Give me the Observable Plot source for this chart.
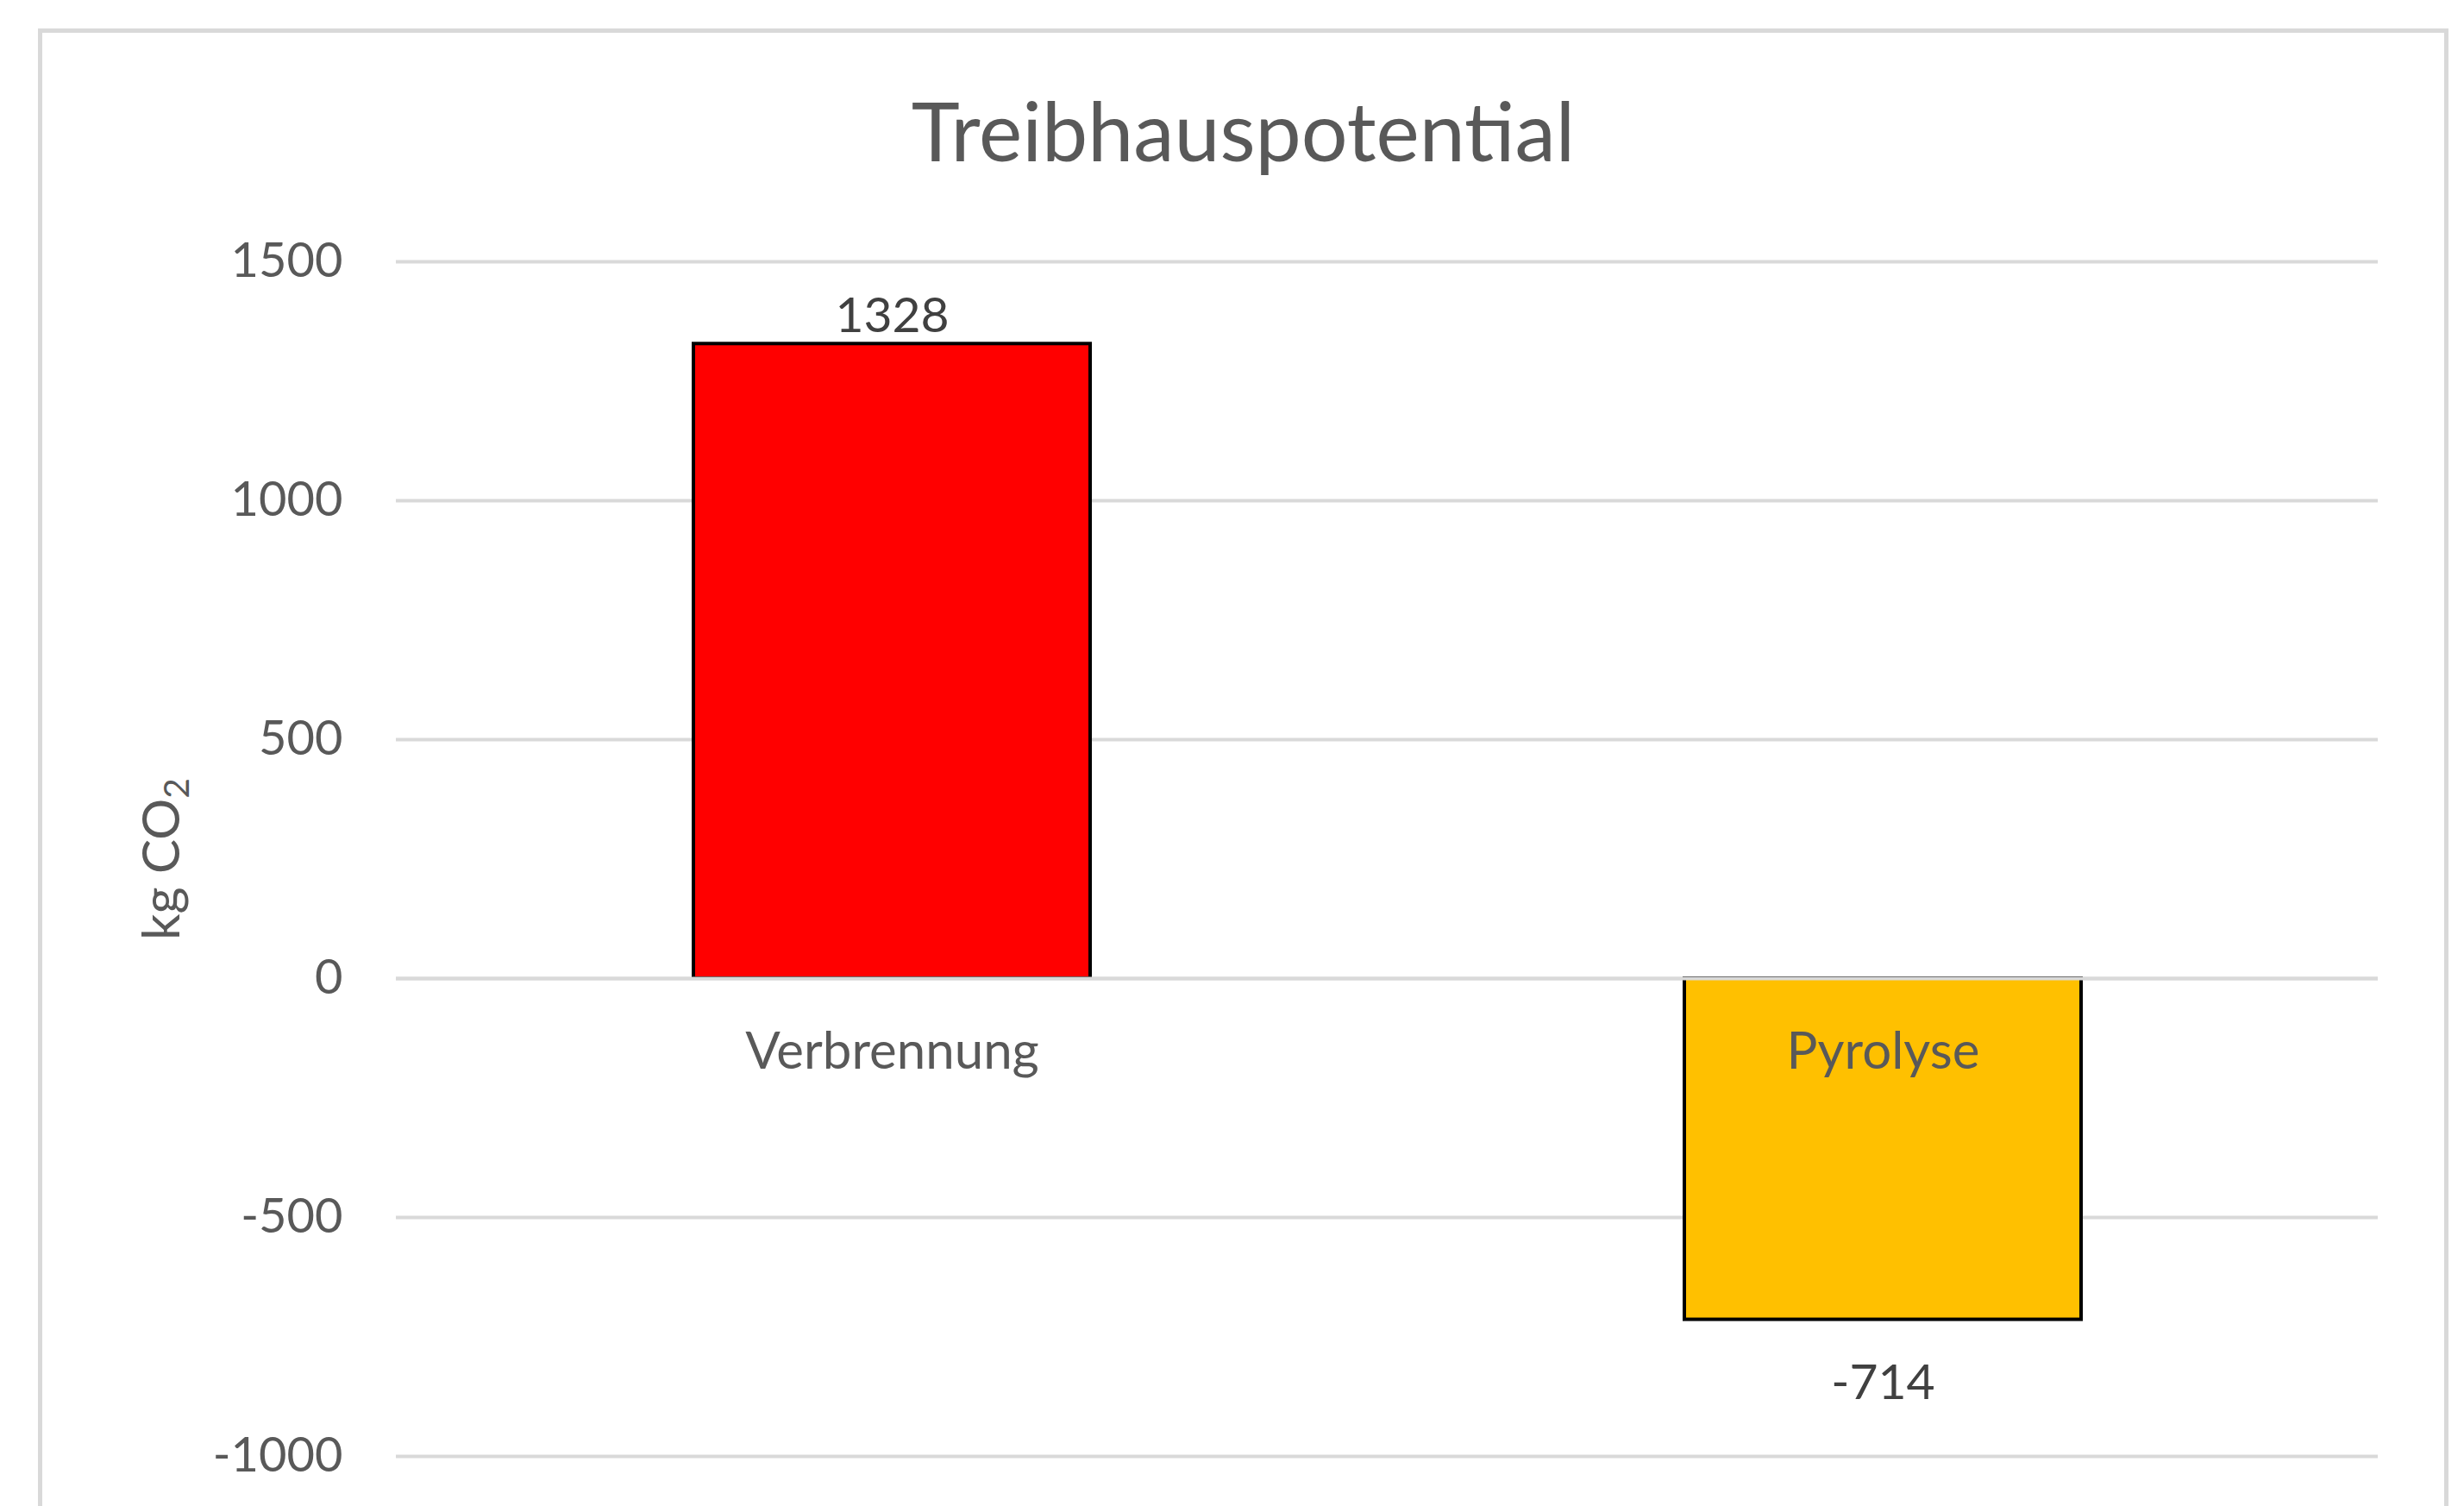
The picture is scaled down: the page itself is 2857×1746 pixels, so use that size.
<!DOCTYPE html>
<html>
<head>
<meta charset="utf-8">
<script src="https://cdn.jsdelivr.net/npm/d3@7"></script>
<script src="https://cdn.jsdelivr.net/npm/@observablehq/plot@0.6"></script>
<style>
  html, body { margin: 0; padding: 0; background: #fff; }
  #wrap { position: relative; width: 2857px; height: 1746px; overflow: hidden; background: #fff; font-family: Lato, "Open Sans", sans-serif; }
  #chart { position: absolute; left: 0; top: 240px; }
  #title { position: absolute; left: 44px; width: 2795px; top: 93px; text-align: center; font-size: 95px; line-height: 1.2; color: #595959; white-space: nowrap; }
  #frame { position: absolute; left: 44px; top: 33px; width: 2785px; height: 1800px; border: 5px solid #d9d9d9; pointer-events: none; }
</style>
</head>
<body>
<div id="wrap">
  <div id="chart"></div>
  <div id="title">Treibhauspotential</div>
  <div id="frame"></div>
</div>
<script>
const categories = ["Verbrennung", "Pyrolyse"];
const values = [1328, -714];
const barColors = ["#FF0000", "#FFC000"];
const yTicks = [-1000, -500, 0, 500, 1000, 1500];
const yLabelMain = "kg CO";
const yLabelSub = "2";

const data = categories.map((c, i) => ({cat: c, value: values[i], color: barColors[i]}));
const fmt = d => String(d);

const chart = Plot.plot({
  width: 2857,
  height: 1506,
  marginTop: 63,
  marginBottom: 58,
  marginLeft: 459,
  marginRight: 100,
  style: {background: "transparent", fontFamily: "Lato, 'Open Sans', sans-serif", fontSize: "56px", color: "#595959", overflow: "visible"},
  x: {domain: categories, paddingInner: 0.6, paddingOuter: 0.3, axis: null},
  y: {domain: [-1000, 1500], axis: null},
  color: {type: "identity"},
  marks: [
    Plot.ruleY(yTicks, {stroke: "#d9d9d9", strokeWidth: 4}),
    Plot.barY(data, {x: "cat", y: "value", fill: "color", stroke: "#000", strokeWidth: 4}),
    Plot.ruleY([0], {stroke: "#d9d9d9", strokeWidth: 4}),
    Plot.axisY({ticks: yTicks, tickSize: 0, tickPadding: 62, tickFormat: fmt, fontSize: 56, label: null}),
    Plot.text([yLabelMain], {frameAnchor: "left", rotate: -90, dx: -252, textAnchor: "middle", lineAnchor: "bottom", text: d => d, fontSize: 60, fill: "#595959", className: "ylabel"}),
    Plot.text(data, {x: "cat", y: d => 0, text: "cat", dy: 104, lineAnchor: "bottom", fontSize: 60, fill: "#595959"}),
    Plot.text(data.filter(d => d.value >= 0), {x: "cat", y: "value", text: d => fmt(d.value), dy: -14, lineAnchor: "bottom", fontSize: 57, fill: "#404040"}),
    Plot.text(data.filter(d => d.value < 0), {x: "cat", y: "value", text: d => fmt(d.value), dy: 92, lineAnchor: "bottom", fontSize: 57, fill: "#404040"})
  ]
});
d3.select(chart).selectAll("text").filter(function() { return this.textContent === yLabelMain; })
  .append("tspan").attr("dy", "0.28em").attr("font-size", "0.68em").text(yLabelSub);
document.getElementById("chart").appendChild(chart);
</script>
</body>
</html>
